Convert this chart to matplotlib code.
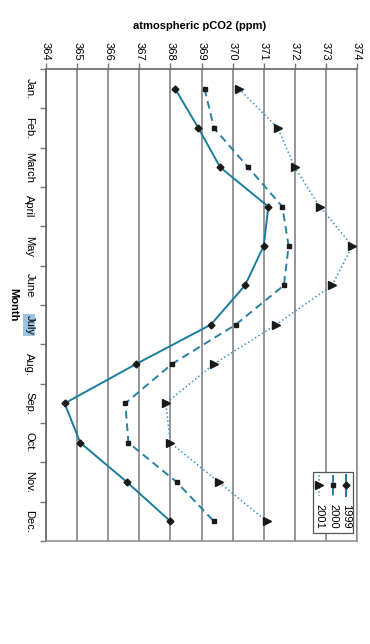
import matplotlib
matplotlib.use("Agg")
import matplotlib.pyplot as plt
from matplotlib.patches import Rectangle
import numpy as np

plt.rcParams['font.family'] = ['Liberation Sans', 'DejaVu Sans']

months = ["Jan.", "Feb.", "March", "April", "May", "June", "July",
          "Aug.", "Sep.", "Oct.", "Nov.", "Dec."]
co2_1999 = [368.15, 368.9, 369.6, 371.15, 371.0, 370.4, 369.3,
            366.9, 364.6, 365.1, 366.6, 368.0]
co2_2000 = [369.1, 369.4, 370.5, 371.6, 371.8, 371.65, 370.1,
            368.05, 366.55, 366.65, 368.2, 369.4]
co2_2001 = [370.2, 371.45, 372.0, 372.8, 373.85, 373.2, 371.4,
            369.4, 367.85, 368.0, 369.55, 371.1]
series_names = ["1999", "2000", "2001"]
xticks = list(range(364, 375))

fig = plt.figure(figsize=(3.70, 6.44), dpi=100)
ax = fig.add_axes([46/370, 103/644, 311/370, 472/644])

c1, c2, c3 = "#1b7d9c", "#2a80a2", "#3a92c4"
idx = np.arange(len(months))
styles = [
    (co2_1999, c1, "-", "D", 3.5, 1.4),
    (co2_2000, c2, (0, (4, 2.5)), "s", 3.5, 1.4),
    (co2_2001, c3, ":", ">", 5.5, 1.1),
]
for vals, col, ls, mk, ms, lw in styles:
    ax.plot(vals, idx, color=col, linestyle=ls, linewidth=lw, marker=mk,
            markersize=ms, markerfacecolor="#1a1a1a", markeredgecolor="#1a1a1a",
            zorder=3)

ax.set_xlim(364, 374)
ax.set_ylim(len(months) - 0.5, -0.5)

ax.xaxis.tick_top()
ax.set_xticks(xticks)
ax.set_xticklabels([str(t) for t in xticks], rotation=-90, fontsize=8)
ax.tick_params(axis='x', direction='out', length=4, width=1, color="#777777", pad=2)
for t in xticks:
    ax.axvline(t, color="#858585", linewidth=1.2, zorder=1)

ax.set_yticks(idx)
ax.set_yticklabels(months, rotation=-90, fontsize=8, va='center', ha='center')
ax.tick_params(axis='y', which='major', length=0, pad=12)
ax.set_yticks(np.arange(len(months) + 1) - 0.5, minor=True)
ax.tick_params(axis='y', which='minor', direction='out', length=4, width=1, color="#777777")
for lab in ax.get_yticklabels():
    if lab.get_text() == "July":
        lab.set_bbox(dict(facecolor="#9cc4e0", edgecolor="none", pad=0.8))

for side in ["top", "left"]:
    ax.spines[side].set_color("#666666")
    ax.spines[side].set_linewidth(1.2)
for side in ["right", "bottom"]:
    ax.spines[side].set_color("#8a8a8a")
    ax.spines[side].set_linewidth(1.1)

fig.text(200/370, 1 - 26/644, "atmospheric pCO2 (ppm)", fontsize=8,
         fontweight='bold', ha='center', va='center')
fig.text(13/370, 1 - 305/644, "Month", fontsize=8, fontweight='bold',
         rotation=-90, ha='center', va='center')

# manual rotated legend
ax.add_patch(Rectangle((0.859, 0.017), 0.128, 0.129, transform=ax.transAxes,
                       facecolor="white", edgecolor="#555555", linewidth=0.9, zorder=5))
leg_x = [0.965, 0.923, 0.878]
for (vals, col, ls, mk, ms, lw), name, lx in zip(styles, series_names, leg_x):
    ax.plot([lx, lx], [0.140, 0.095], transform=ax.transAxes, color=col,
            linestyle=ls, linewidth=lw, zorder=6)
    ax.plot([lx], [0.119], transform=ax.transAxes, marker=mk, markersize=ms,
            color="#1a1a1a", zorder=7)
    ax.text(lx, 0.078, name, transform=ax.transAxes, rotation=-90, fontsize=8,
            ha='center', va='top', zorder=7)

fig.savefig("out.png", dpi=100)
